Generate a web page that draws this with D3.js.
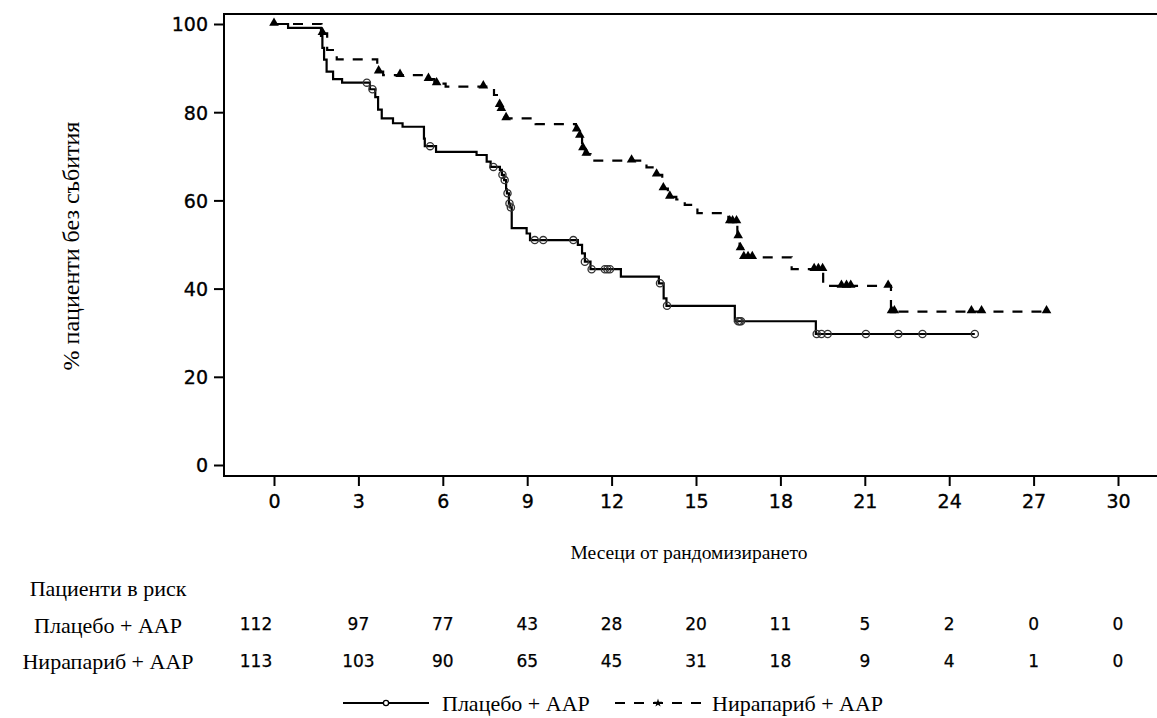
<!DOCTYPE html>
<html>
<head>
<meta charset="utf-8">
<script src="https://cdn.jsdelivr.net/npm/d3@7"></script>
<style>
  body { margin: 0; background: #fff; }
  .tick text { font-family: "DejaVu Sans", sans-serif; font-size: 19px; fill: #000; stroke: #000; stroke-width: 0.35px; }
  .serif { font-family: "Liberation Serif", "Times New Roman", serif; font-size: 19.5px; fill: #000; }
  .rowlab { font-family: "Liberation Serif", "Times New Roman", serif; font-size: 22px; fill: #000; }
  .leglab { font-family: "Liberation Serif", "Times New Roman", serif; font-size: 22px; fill: #000; }
  .ylab { font-family: "Liberation Serif", "Times New Roman", serif; font-size: 24px; fill: #000; }
  .risk { font-family: "DejaVu Sans", sans-serif; font-size: 17px; fill: #000; stroke: #000; stroke-width: 0.25px; }
</style>
</head>
<body>
<svg id="chart" width="1157" height="718"></svg>
<script>
// KM steps: time (months) and % event free after the drop
var plaTimes = [0, 0.5, 1.67, 1.72, 1.78, 1.87, 2.1, 2.42, 3.41, 3.6, 3.7, 3.83, 4.23, 4.57, 5.33, 5.36, 5.76,
    7.2, 7.56, 7.7, 8.03, 8.1, 8.18, 8.25, 8.28, 8.35, 8.4, 8.45, 8.98, 9.1, 10.8, 10.95, 11.05, 11.25, 12.33,
    13.68, 13.85, 13.95, 16.38, 19.26];
var plaSurv = [100, 99.1, 97.3, 94.6, 91.9, 89.2, 87.5, 86.7, 85.2, 83.4, 80.6, 78.6, 77.5, 76.7, 74.0, 72.3, 71.0,
    70.3, 68.8, 67.6, 66.9, 65.8, 64.6, 62.5, 61.6, 59.3, 58.4, 53.7, 52.5, 51.0, 49.9, 48.0, 46.1, 44.4, 42.7,
    41.2, 37.8, 36.1, 32.6, 29.7];
var plaCensor = [3.3, 3.5, 5.55, 7.8, 8.12, 8.2, 8.3, 8.37, 8.42, 9.27, 9.57, 10.64, 11.05, 11.29, 11.76, 11.85,
    11.94, 13.72, 13.97, 16.5, 16.55, 16.6, 19.29, 19.46, 19.68, 21.04, 22.19, 23.05, 24.91];

var niraTimes = [0, 1.69, 1.89, 2.23, 3.67, 3.88, 5.45, 5.7, 6.1, 7.82, 8.0, 8.05, 8.2, 9.3, 10.73, 10.85, 10.95,
    11.05, 11.25, 13.24, 13.5, 13.8, 14.0, 14.3, 14.6, 15.05, 16.15, 16.47, 16.55, 16.65, 18.4, 19.52, 21.93];
var niraSurv = [100, 97.9, 94.1, 92.0, 89.2, 88.4, 87.5, 86.5, 85.8, 83.9, 81.6, 80.7, 78.6, 77.3, 76.0, 74.6, 71.8,
    70.5, 69.0, 67.5, 65.8, 62.7, 60.8, 60.2, 59.0, 57.1, 55.2, 51.8, 49.1, 47.1, 44.4, 40.6, 34.8];
var niraCensor = [0, 1.72, 3.72, 4.48, 5.49, 5.78, 7.44, 8.02, 8.08, 8.25, 10.76, 10.87, 10.98, 11.1, 12.71, 13.6,
    13.84, 14.07, 16.2, 16.3, 16.44, 16.5, 16.58, 16.7, 16.85, 17.0, 19.2, 19.35, 19.5, 20.17, 20.35, 20.5, 21.83,
    21.95, 22.05, 24.79, 25.15, 27.46];

var xTicks = [0, 3, 6, 9, 12, 15, 18, 21, 24, 27, 30];
var yTicks = [0, 20, 40, 60, 80, 100];
var plaRisk = [112, 97, 77, 43, 28, 20, 11, 5, 2, 0, 0];
var niraRisk = [113, 103, 90, 65, 45, 31, 18, 9, 4, 1, 0];

var plaName = 'Плацебо + ААР';
var niraName = 'Нирапариб + ААР';

var svg = d3.select('#chart');
var x = d3.scaleLinear().domain([0, 30]).range([274, 1118]);
var y = d3.scaleLinear().domain([0, 100]).range([465, 24]);

// frame (right side runs off the page like the original)
svg.append('path')
    .attr('d', 'M1170,14 H224 V476 H1170')
    .attr('fill', 'none')
    .attr('stroke', '#000')
    .attr('stroke-width', 2);

var yAxis = svg.append('g')
    .attr('transform', 'translate(224,0)')
    .call(d3.axisLeft(y).tickValues(yTicks).tickSize(10).tickPadding(6));
var xAxis = svg.append('g')
    .attr('transform', 'translate(0,476)')
    .call(d3.axisBottom(x).tickValues(xTicks).tickSize(10).tickPadding(9));
[xAxis, yAxis].forEach(function (a) {
    a.select('.domain').remove();
    a.selectAll('.tick line').attr('stroke', '#000').attr('stroke-width', 2);
});
yAxis.selectAll('.tick text').attr('dy', '0.36em');

svg.append('text')
    .attr('class', 'serif')
    .attr('x', 689).attr('y', 559)
    .attr('text-anchor', 'middle')
    .text('Месеци от рандомизирането');

svg.append('text')
    .attr('class', 'ylab')
    .attr('transform', 'translate(79,246) rotate(-90)')
    .attr('text-anchor', 'middle')
    .text('% пациенти без събития');

function survAt(times, surv, t) {
    var i = d3.bisectRight(times, t) - 1;
    return surv[Math.max(i, 0)];
}

function drawArm(times, surv, censor, dash) {
    var end = d3.max(censor);
    var pts = times.map(function (t, i) { return [t, surv[i]]; });
    pts.push([end, surv[surv.length - 1]]);
    var line = d3.line()
        .x(function (d) { return x(d[0]); })
        .y(function (d) { return y(d[1]); })
        .curve(d3.curveStepAfter);
    svg.append('path')
        .datum(pts)
        .attr('d', line)
        .attr('fill', 'none')
        .attr('stroke', '#000')
        .attr('stroke-width', 2.2)
        .attr('stroke-dasharray', dash);
}

drawArm(plaTimes, plaSurv, plaCensor, null);
drawArm(niraTimes, niraSurv, niraCensor, '10,9');

svg.append('g').selectAll('circle')
    .data(plaCensor)
    .enter().append('circle')
    .attr('cx', function (d) { return x(d); })
    .attr('cy', function (d) { return y(survAt(plaTimes, plaSurv, d)); })
    .attr('r', 3.6)
    .attr('fill', 'none')
    .attr('stroke', '#333')
    .attr('stroke-width', 1.3);

var tri = d3.symbol().type(d3.symbolTriangle).size(40);
svg.append('g').selectAll('path')
    .data(niraCensor)
    .enter().append('path')
    .attr('d', tri)
    .attr('transform', function (d) {
        return 'translate(' + x(d) + ',' + (y(survAt(niraTimes, niraSurv, d)) - 1) + ')';
    })
    .attr('fill', '#000');

// numbers at risk
svg.append('text').attr('class', 'rowlab')
    .attr('x', 108).attr('y', 596).attr('text-anchor', 'middle')
    .text('Пациенти в риск');
svg.append('text').attr('class', 'rowlab')
    .attr('x', 108).attr('y', 633).attr('text-anchor', 'middle')
    .text(plaName);
svg.append('text').attr('class', 'rowlab')
    .attr('x', 108).attr('y', 669).attr('text-anchor', 'middle')
    .text(niraName);

function riskRow(vals, yy) {
    svg.append('g').selectAll('text')
        .data(vals)
        .enter().append('text')
        .attr('class', 'risk')
        .attr('x', function (d, i) { return i === 0 ? x(xTicks[i]) - 18 : x(xTicks[i]); })
        .attr('y', yy)
        .attr('text-anchor', 'middle')
        .text(function (d) { return d; });
}
riskRow(plaRisk, 630);
riskRow(niraRisk, 667);

// legend
var leg = svg.append('g');
leg.append('line')
    .attr('x1', 343).attr('x2', 429).attr('y1', 703).attr('y2', 703)
    .attr('stroke', '#000').attr('stroke-width', 2);
leg.append('circle')
    .attr('cx', 386).attr('cy', 703).attr('r', 2.6)
    .attr('fill', '#fff').attr('stroke', '#000').attr('stroke-width', 1.3);
leg.append('text').attr('class', 'leglab')
    .attr('x', 442).attr('y', 711)
    .text(plaName);
leg.append('line')
    .attr('x1', 615).attr('x2', 701).attr('y1', 703).attr('y2', 703)
    .attr('stroke', '#000').attr('stroke-width', 2)
    .attr('stroke-dasharray', '10,9');
leg.append('path')
    .attr('d', d3.symbol().type(d3.symbolStar).size(22))
    .attr('transform', 'translate(658,703)')
    .attr('fill', '#000');
leg.append('text').attr('class', 'leglab')
    .attr('x', 712).attr('y', 711)
    .text(niraName);
</script>
</body>
</html>
